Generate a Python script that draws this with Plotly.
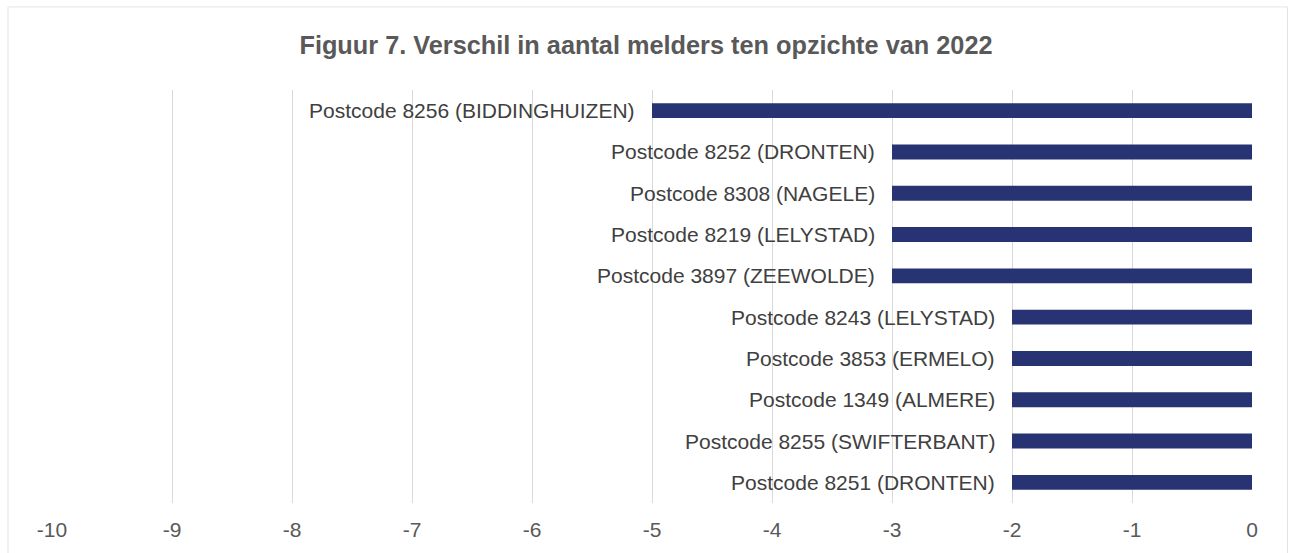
import plotly.graph_objects as go

categories = [
    "Postcode 8256 (BIDDINGHUIZEN)",
    "Postcode 8252 (DRONTEN)",
    "Postcode 8308 (NAGELE)",
    "Postcode 8219 (LELYSTAD)",
    "Postcode 3897 (ZEEWOLDE)",
    "Postcode 8243 (LELYSTAD)",
    "Postcode 3853 (ERMELO)",
    "Postcode 1349 (ALMERE)",
    "Postcode 8255 (SWIFTERBANT)",
    "Postcode 8251 (DRONTEN)",
]
values = [-5, -3, -3, -3, -3, -2, -2, -2, -2, -2]
tick_values = list(range(-10, 1))
title_text = "Figuur 7. Verschil in aantal melders ten opzichte van 2022"

BAR_COLOR = "#283374"
FONT = "Liberation Sans, Arial, sans-serif"

fig = go.Figure()
fig.add_trace(go.Bar(
    x=values,
    y=categories,
    orientation="h",
    width=0.36,
    marker=dict(color=BAR_COLOR, line=dict(width=0)),
    hoverinfo="x+y",
))

annotations = []
for cat, val in zip(categories, values):
    annotations.append(dict(
        x=val, y=cat, xref="x", yref="y",
        text=cat, showarrow=False,
        xanchor="right", yanchor="middle",
        xshift=-15,
        font=dict(family=FONT, size=21, color="#404040"),
    ))

fig.update_layout(
    width=1292, height=553,
    margin=dict(l=52, r=40, t=90, b=48),
    paper_bgcolor="white",
    plot_bgcolor="white",
    showlegend=False,
    title=dict(
        text="<b>" + title_text + "</b>",
        x=0.5, xref="container", xanchor="center",
        y=1 - 45 / 553, yref="container", yanchor="middle",
        font=dict(family=FONT, size=25.3, color="#595959"),
    ),
    xaxis=dict(
        range=[-10, 0],
        tickmode="array",
        tickvals=tick_values,
        ticktext=[str(v) for v in tick_values],
        showgrid=True,
        gridcolor="#d9d9d9",
        gridwidth=1,
        zeroline=False,
        showline=False,
        ticks="outside",
        ticklen=8,
        tickcolor="rgba(0,0,0,0)",
        tickfont=dict(family=FONT, size=21, color="#595959"),
        fixedrange=True,
    ),
    yaxis=dict(
        autorange="reversed",
        showticklabels=False,
        showgrid=False,
        zeroline=False,
        showline=False,
        fixedrange=True,
    ),
    annotations=annotations,
    shapes=[dict(
        type="rect", xref="paper", yref="paper",
        x0=(8 - 52) / 1200, x1=(1287.5 - 52) / 1200,
        y0=(505 - 600) / 415, y1=(505 - 6.5) / 415,
        line=dict(color="#e3e3e3", width=1),
        fillcolor="rgba(0,0,0,0)",
        layer="below",
    )],
)

fig.write_html(
    "out.html",
    config={"displayModeBar": False},
    post_script="document.body.style.margin='0';document.documentElement.style.overflow='hidden';",
)
